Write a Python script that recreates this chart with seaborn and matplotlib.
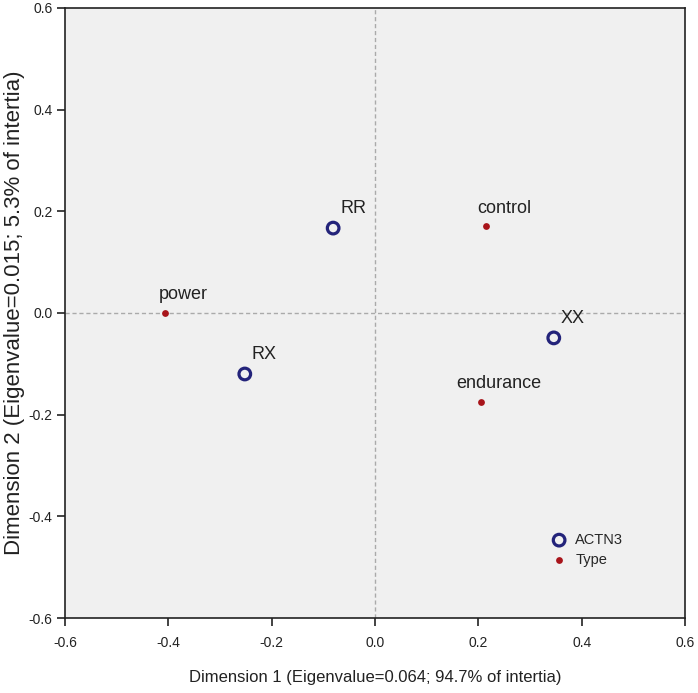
import matplotlib
matplotlib.use("Agg")
import matplotlib.pyplot as plt
import seaborn as sns
import pandas as pd

# category points (ACTN3 genotypes and athlete types)
actn3_labels = ["RR", "RX", "XX"]
actn3_x = [-0.081, -0.252, 0.346]
actn3_y = [0.167, -0.120, -0.049]

type_labels = ["power", "control", "endurance"]
type_x = [-0.406, 0.215, 0.205]
type_y = [0.0, 0.171, -0.175]

df = pd.DataFrame({
    "label": actn3_labels + type_labels,
    "x": actn3_x + type_x,
    "y": actn3_y + type_y,
    "group": ["ACTN3"] * 3 + ["Type"] * 3,
})

sns.set_style("ticks")
plt.rcParams["font.family"] = ["Liberation Sans", "DejaVu Sans"]

fig = plt.figure(figsize=(6.98, 6.93), dpi=100)
ax = fig.add_axes([0.0931, 0.1082, 0.8883, 0.8803])
ax.set_facecolor("#f0f0f0")

navy = "#23237a"
red = "#a8141a"
txt = "#222222"

a = df[df.group == "ACTN3"]
t = df[df.group == "Type"]
sns.scatterplot(data=a, x="x", y="y", ax=ax, marker="o", s=70,
                facecolor="none", edgecolor=navy, linewidth=2.3,
                label="ACTN3", zorder=3)
sns.scatterplot(data=t, x="x", y="y", ax=ax, marker="o", s=24,
                color=red, edgecolor=red, linewidth=0,
                label="Type", zorder=3)

for _, r in df.iterrows():
    if r.group == "ACTN3":
        ax.annotate(r.label, (r.x, r.y), xytext=(5, 14), textcoords="offset points",
                    fontsize=13, color=txt, va="center")
    else:
        ax.annotate(r.label, (r.x, r.y), xytext=(13, 13), textcoords="offset points",
                    fontsize=13, color=txt, ha="center", va="center")

ax.axhline(0, color="#aaaaaa", linestyle=(0, (3, 2)), linewidth=1, zorder=1)
ax.axvline(0, color="#aaaaaa", linestyle=(0, (3, 2)), linewidth=1, zorder=1)

ax.set_xlim(-0.6, 0.6)
ax.set_ylim(-0.6, 0.6)
ticks = [-0.6, -0.4, -0.2, 0.0, 0.2, 0.4, 0.6]
ax.set_xticks(ticks)
ax.set_yticks(ticks)
ax.set_xticklabels([f"{v:.1f}" for v in ticks])
ax.set_yticklabels([f"{v:.1f}" for v in ticks])
ax.tick_params(direction="out", length=6, width=1.2, labelsize=10, colors=txt)
ax.tick_params(axis="x", pad=7)
ax.tick_params(axis="y", pad=3)
for s in ax.spines.values():
    s.set_color(txt)
    s.set_linewidth(1.2)

ax.set_xlabel("Dimension 1 (Eigenvalue=0.064; 94.7% of intertia)", fontsize=12,
              color=txt, labelpad=14)
ax.set_ylabel("Dimension 2 (Eigenvalue=0.015; 5.3% of intertia)", fontsize=16,
              color=txt)
ax.yaxis.set_label_coords(-0.064, 0.5)

leg = ax.legend(loc="lower right", bbox_to_anchor=(0.912, 0.072), frameon=False,
                fontsize=10.5, handletextpad=0.1, labelspacing=0.4, borderpad=0)

fig.savefig("out.png", dpi=100)
